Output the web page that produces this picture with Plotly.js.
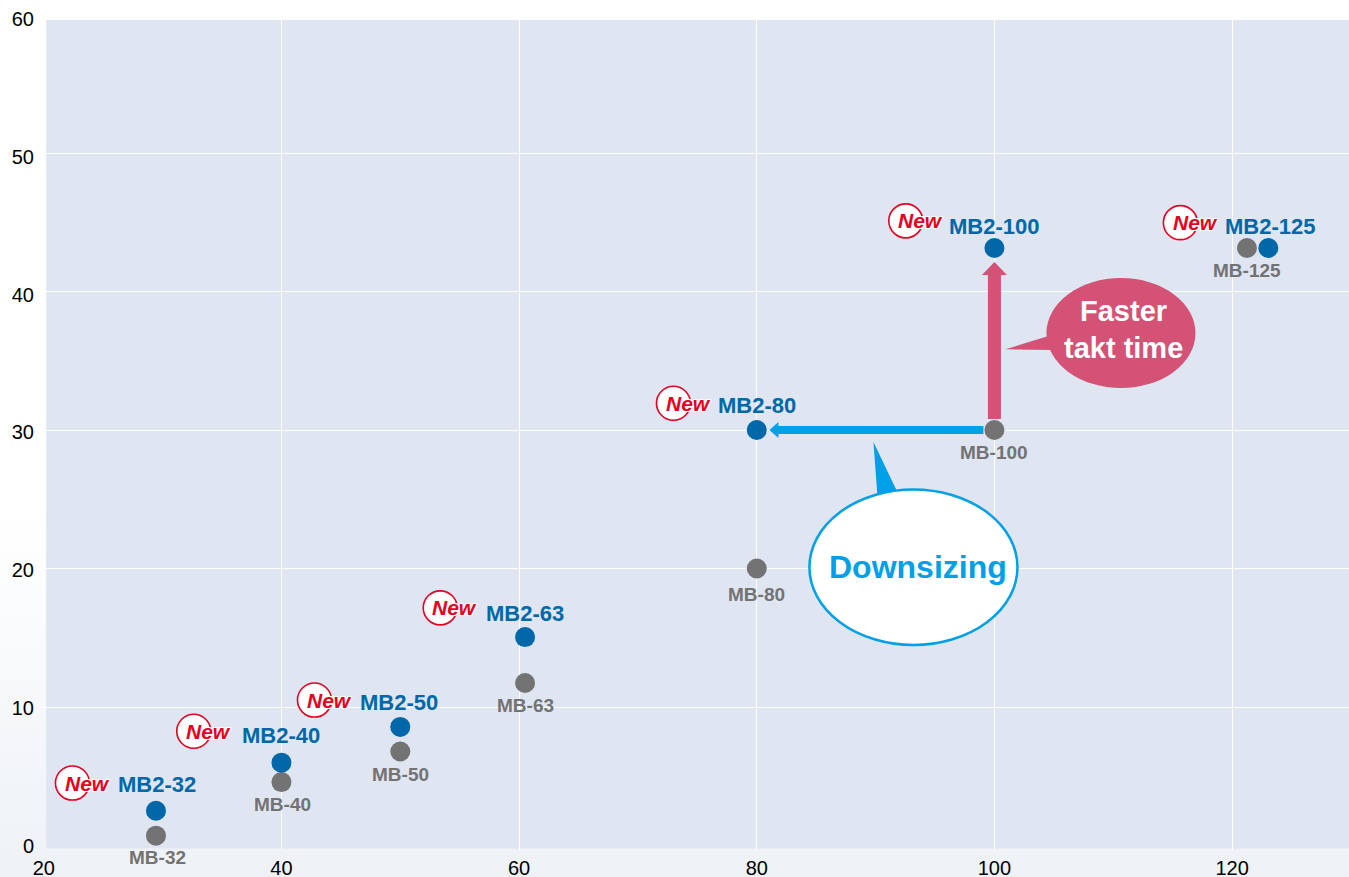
<!DOCTYPE html>
<html>
<head>
<meta charset="utf-8">
<script src="https://cdn.plot.ly/plotly-3.0.1.min.js"></script>
<style>
html,body{margin:0;padding:0;width:1349px;height:877px;overflow:hidden;background:linear-gradient(to bottom,#ffffff 0%,#ffffff 58%,#eef2f6 100%);}
#chart{width:1349px;height:877px;}
</style>
</head>
<body>
<div id="chart"></div>
<script>
// Data
const xTickValues = [20, 40, 60, 80, 100, 120];
const yTickValues = [0, 10, 20, 30, 40, 50, 60];
const xGridValues = [40, 60, 80, 100, 120];
const yGridValues = [10, 20, 30, 40, 50];

const newModels = ['MB2-32', 'MB2-40', 'MB2-50', 'MB2-63', 'MB2-80', 'MB2-100', 'MB2-125'];
const newX = [29.44, 40, 50, 60.5, 80, 100, 123.05];
const newY = [2.51, 5.98, 8.56, 15.05, 30, 43.14, 43.14];

const oldModels = ['MB-32', 'MB-40', 'MB-50', 'MB-63', 'MB-80', 'MB-100', 'MB-125'];
const oldX = [29.44, 40, 50, 60.5, 80, 100, 121.25];
const oldY = [0.71, 4.58, 6.79, 11.73, 20, 30, 43.14];

const badgeX = [22.41, 32.62, 42.78, 53.36, 72.99, 92.54, 115.65];
const badgeY = [4.51, 8.25, 10.5, 17.16, 31.93, 45.1, 44.97];

// Colours and scale
const NEW_BLUE = '#0068a9', OLD_GREY = '#737373', RED = '#e60021', PINK = '#d35276', CYAN = '#00a0e9';
const PX_X = 11.883, PX_Y = 13.85;

const traces = [
  {type:'scatter', mode:'markers', x:badgeX, y:badgeY, hoverinfo:'skip', showlegend:false, cliponaxis:false,
   marker:{size:34, color:'#ffffff', line:{color:RED, width:1.6}}},
  {type:'scatter', mode:'markers', x:oldX, y:oldY, text:oldModels, name:'MB', showlegend:false, cliponaxis:false,
   marker:{size:20, color:OLD_GREY}},
  {type:'scatter', mode:'markers', x:newX, y:newY, text:newModels, name:'MB2', showlegend:false, cliponaxis:false,
   marker:{size:20, color:NEW_BLUE}},
  {type:'scatter', mode:'markers', x:[null], y:[null], xaxis:'x2', yaxis:'y2', showlegend:false, hoverinfo:'skip'}
];

function poly(points){
  return 'M' + points.map(p => p[0] + ',' + p[1]).join(' L') + ' Z';
}
// arrows: data anchor plus offsets in pixels
function offset(x0, y0, pts){
  return pts.map(p => [x0 + p[0] / PX_X, y0 - p[1] / PX_Y]);
}

const shapes = [
  {type:'rect', layer:'below', xref:'x', yref:'y', x0:20.2, x1:129.88, y0:-0.22, y1:59.6, fillcolor:'#dfe5f1', line:{width:0}},
  // pink arrow, from the MB-100 point up to MB2-100
  {type:'path', layer:'above', xref:'x', yref:'y', fillcolor:PINK, line:{width:0},
   path:poly(offset(100, 30, [[-6.5,-11],[-6.5,-155],[-12.5,-155],[0,-168],[12.5,-155],[6.5,-155],[6.5,-11]]))},
  // cyan arrow, from the MB-100 point left to MB2-80
  {type:'path', layer:'above', xref:'x', yref:'y', fillcolor:CYAN, line:{width:0},
   path:poly(offset(100, 30, [[-11,-4],[-216,-4],[-216,-8],[-225,0],[-216,8],[-216,4],[-11,4]]))},
  // pink callout
  {type:'path', layer:'above', xref:'x', yref:'y', fillcolor:PINK, line:{width:0},
   path:poly([[100.93,35.83],[104.4,36.75],[104.9,35.78]])},
  {type:'circle', layer:'above', xref:'x', yref:'y', x0:104.38, x1:116.92, y0:33.03, y1:40.97, fillcolor:PINK, line:{width:0}},
  // cyan callout
  {type:'path', layer:'above', xref:'x', yref:'y', fillcolor:CYAN, line:{width:0},
   path:poly([[89.82,29.13],[90.16,25.2],[91.84,25.5]])},
  {type:'circle', layer:'above', xref:'x', yref:'y', x0:84.43, x1:101.94, y0:14.48, y1:25.7, fillcolor:'#ffffff', line:{color:CYAN, width:2.5}}
];

const annotations = [];
function addText(text, x, y, size, color, dx, dy, extra){
  annotations.push(Object.assign({
    text:text, x:x, y:y, xref:'x', yref:'y', showarrow:false, xanchor:'center', yanchor:'middle',
    xshift:dx, yshift:dy,
    font:{family:'"Liberation Sans", Arial, sans-serif', size:size, color:color}
  }, extra || {}));
}
const newDx = [1.2, 0, -1, 0, 0, 0, 1.5];
const newDy = [26.7, 27, 24, 24, 24.5, 22, 22];
newModels.forEach((m, i) => addText('<b>' + m + '</b>', newX[i], newY[i], 22, NEW_BLUE, newDx[i], newDy[i]));
const oldDx = [1.5, 1, 0, 0, 0, 0, 0.5];
const oldDy = [-21.5, -22, -23.5, -22.5, -26, -22, -22];
oldModels.forEach((m, i) => addText('<b>' + m + '</b>', oldX[i], oldY[i], 19, OLD_GREY, oldDx[i], oldDy[i]));
const halo = '1px 0 0 #fff, -1px 0 0 #fff, 0 1px 0 #fff, 0 -1px 0 #fff, 1px 1px 0 #fff, -1px -1px 0 #fff, 1px -1px 0 #fff, -1px 1px 0 #fff';
badgeX.forEach((x, i) => {
  addText('<b><i>New</i></b>', x, badgeY[i], 21, RED, 14.7, 0);
  annotations[annotations.length - 1].font.shadow = halo;
});
addText('<b>Faster</b>', 110.86, 38.61, 29, '#ffffff', 0, 0);
addText('<b>takt time</b>', 110.86, 35.92, 29, '#ffffff', 0, 0);
addText('<b>Downsizing</b>', 93.58, 20.13, 32, CYAN, 0, 0);

const tickFont = {family:'"Liberation Sans", Arial, sans-serif', size:20, color:'#000000'};
const xRange = [19.68, 129.84];
const layout = {
  width:1349, height:877,
  margin:{l:40, r:0, t:10, b:27, pad:0},
  paper_bgcolor:'rgba(0,0,0,0)', plot_bgcolor:'rgba(0,0,0,0)',
  showlegend:false,
  hovermode:'closest',
  xaxis:{range:xRange, tickmode:'array', tickvals:xGridValues, showticklabels:false, showgrid:true,
         gridcolor:'#ffffff', gridwidth:1.3, zeroline:false, showline:false, ticks:''},
  yaxis:{range:[-0.325, 60.325], tickmode:'array', tickvals:yGridValues, showticklabels:false, showgrid:true,
         gridcolor:'#ffffff', gridwidth:1.3, zeroline:false, showline:false, ticks:''},
  xaxis2:{overlaying:'x', anchor:'y', side:'bottom', range:xRange, tickmode:'array', tickvals:xTickValues,
          showgrid:false, zeroline:false, showline:false, ticks:'', tickfont:tickFont, ticklabelstandoff:4},
  yaxis2:{overlaying:'y', anchor:'x', side:'left', range:[-0.29, 60.65], tickmode:'array', tickvals:yTickValues,
          showgrid:false, zeroline:false, showline:false, ticks:'', tickfont:tickFont, ticklabelstandoff:5},
  shapes:shapes,
  annotations:annotations
};
Plotly.newPlot('chart', traces, layout, {displayModeBar:false, responsive:false});
</script>
</body>
</html>
